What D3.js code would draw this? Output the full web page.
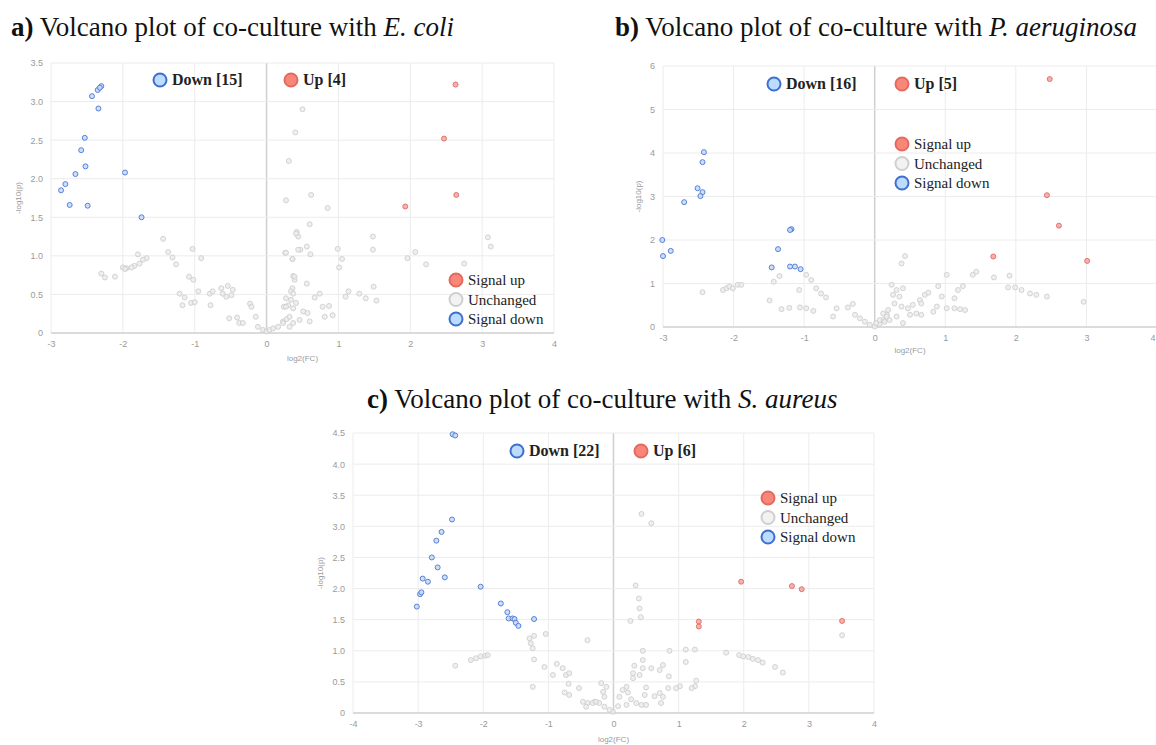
<!DOCTYPE html>
<html><head><meta charset="utf-8">
<script src="https://cdn.jsdelivr.net/npm/d3@7"></script>
<style>body{margin:0;background:#fff}svg{display:block}</style>
</head><body>
<script>
// ---------- DATA ----------
// Panel a: E. coli   [log2(FC), -log10(p)]
const ecoliDown = [[-2.30,3.20],[-2.35,3.15],[-2.32,3.18],[-2.43,3.07],[-2.34,2.91],[-2.53,2.53],[-2.58,2.37],[-2.52,2.16],[-2.66,2.06],[-1.97,2.08],[-2.80,1.93],[-2.86,1.85],[-2.74,1.66],[-2.49,1.65],[-1.74,1.50]];
const ecoliUp = [[2.63,3.22],[2.47,2.52],[2.64,1.79],[1.93,1.64]];
const ecoliUnchanged = [[0.50,2.90],[0.40,2.60],[0.31,2.23],[0.62,1.79],[0.27,1.72],[0.85,1.62],[0.60,1.41],[0.42,1.31],[0.44,1.25],[1.48,1.25],[3.08,1.24],[3.12,1.12],[0.56,1.12],[0.47,1.08],[0.99,1.09],[1.48,1.08],[0.26,1.04],[0.61,1.02],[0.36,0.96],[1.05,0.96],[2.07,1.05],[1.96,0.97],[2.22,0.89],[2.75,0.90],[1.01,0.85],[0.37,0.74],[0.39,0.69],[0.56,0.64],[0.36,0.58],[0.34,0.54],[1.14,0.54],[1.49,0.60],[1.29,0.51],[0.74,0.51],[0.67,0.46],[1.10,0.47],[1.38,0.45],[1.53,0.42],[0.27,0.45],[0.24,0.34],[0.30,0.36],[0.78,0.34],[0.87,0.35],[0.41,0.39],[0.51,0.28],[0.57,0.26],[0.92,0.23],[0.81,0.21],[0.46,0.17],[0.37,0.13],[0.60,0.15],[0.23,0.15],[0.32,0.08],
[-1.44,1.22],[-1.03,1.09],[-1.37,1.05],[-1.31,0.98],[-0.91,0.97],[-1.26,0.89],[-1.79,1.02],[-1.67,0.97],[-1.72,0.95],[-1.77,0.90],[-1.84,0.87],[-1.88,0.85],[-1.95,0.84],[-2.00,0.85],[-1.97,0.83],[-2.11,0.73],[-2.30,0.77],[-2.25,0.72],[-1.08,0.73],[-1.02,0.69],[-1.21,0.51],[-1.14,0.46],[-1.17,0.36],[-1.05,0.39],[-1.00,0.40],[-0.95,0.54],[-0.78,0.36],[-0.79,0.51],[-0.75,0.54],[-0.63,0.58],[-0.54,0.61],[-0.61,0.51],[-0.56,0.47],[-0.49,0.49],[-0.47,0.56],[-0.52,0.19],[-0.41,0.20],[-0.38,0.13],[-0.33,0.13],[-0.23,0.38],[-0.21,0.34],[-0.15,0.21],[-0.12,0.08],[-0.05,0.04],[0.00,0.02],[0.04,0.04],[0.09,0.06],[0.16,0.08],[0.23,0.13],[0.28,0.18],[0.32,0.21],[0.37,0.32],[0.27,0.34],[0.34,0.43],[0.37,0.51],[0.39,0.73],[0.41,1.29],[0.44,1.08],[0.36,0.96],[0.27,1.04]];

// Panel b: P. aeruginosa
const paeruDown = [[-2.42,4.02],[-2.44,3.79],[-2.51,3.19],[-2.44,3.10],[-2.47,3.01],[-2.70,2.87],[-3.01,2.00],[-2.89,1.75],[-3.00,1.63],[-1.18,2.25],[-1.20,2.23],[-1.37,1.79],[-1.46,1.37],[-1.20,1.39],[-1.13,1.39],[-1.05,1.33]];
const paeruUp = [[2.48,5.70],[2.44,3.03],[2.61,2.33],[1.68,1.62],[3.01,1.52]];
const paeruUnchanged = [[-2.44,0.80],[-2.15,0.85],[-2.10,0.89],[-2.06,0.93],[-2.01,0.89],[-1.94,0.97],[-1.89,0.97],[-1.43,1.04],[-1.35,1.17],[-1.49,0.61],[-1.32,0.41],[-1.21,0.44],[-1.07,0.85],[-1.06,0.45],[-0.97,0.43],[-0.87,0.37],[-0.97,1.20],[-0.90,1.08],[-0.83,0.89],[-0.76,0.77],[-0.69,0.68],[-0.59,0.24],[-0.54,0.43],[-0.38,0.45],[-0.31,0.53],[-0.28,0.28],[-0.21,0.20],[-0.14,0.12],[-0.07,0.05],[0.00,0.01],[0.07,0.07],[0.12,0.16],[0.17,0.28],[0.19,0.39],
[0.43,1.63],[0.38,1.46],[0.24,0.97],[0.31,0.85],[0.40,0.89],[0.26,0.74],[0.35,0.70],[0.28,0.54],[0.38,0.47],[0.47,0.43],[0.54,0.51],[0.64,0.62],[0.71,0.74],[0.76,0.79],[0.66,0.54],[0.59,0.31],[0.66,0.28],[0.83,0.35],[0.88,0.47],[0.95,0.70],[0.90,0.94],[1.02,1.20],[1.02,0.43],[1.13,0.43],[1.21,0.41],[1.28,0.39],[1.13,0.66],[1.18,0.85],[1.25,0.94],[1.39,1.20],[1.44,1.27],[1.69,1.14],[1.91,1.18],[1.89,0.91],[1.99,0.91],[2.08,0.85],[2.20,0.77],[2.29,0.74],[2.44,0.70],[2.96,0.58],[0.12,0.31],[0.17,0.24],[0.07,0.16],[0.02,0.09],[0.14,0.12],[0.21,0.16],[0.40,0.09],[0.31,0.24],[0.50,0.28]];

// Panel c: S. aureus
const saureusDown = [[-2.47,4.48],[-2.43,4.46],[-2.48,3.11],[-2.64,2.91],[-2.72,2.77],[-2.79,2.50],[-2.70,2.34],[-2.93,2.16],[-2.85,2.11],[-2.59,2.18],[-2.97,1.91],[-2.95,1.94],[-3.02,1.71],[-2.04,2.03],[-1.73,1.76],[-1.63,1.62],[-1.61,1.52],[-1.55,1.52],[-1.52,1.51],[-1.50,1.45],[-1.46,1.40],[-1.22,1.51]];
const saureusUp = [[1.96,2.11],[2.74,2.04],[2.89,1.99],[1.31,1.47],[1.31,1.39],[3.51,1.48]];
const saureusUnchanged = [[0.43,3.20],[0.58,3.05],[0.34,2.05],[0.39,1.84],[0.40,1.68],[0.42,1.54],[0.26,1.48],[3.51,1.25],[-0.40,1.17],[0.45,1.00],[0.86,1.00],[1.11,1.02],[1.25,1.02],[1.11,0.82],[1.73,0.97],[1.93,0.93],[1.99,0.91],[2.07,0.90],[2.14,0.87],[2.22,0.85],[2.29,0.81],[2.48,0.74],[2.60,0.65],[0.45,0.85],[0.32,0.76],[0.45,0.72],[0.58,0.72],[0.71,0.69],[0.76,0.77],[0.30,0.64],[0.40,0.61],[0.30,0.56],[0.85,0.59],[1.27,0.52],[1.25,0.43],[1.20,0.40],[1.02,0.43],[0.96,0.40],[0.84,0.40],[0.71,0.32],[0.76,0.26],[0.63,0.27],[0.73,0.16],[0.50,0.41],[0.48,0.29],[0.20,0.42],[0.14,0.37],[0.22,0.33],[0.09,0.26],[0.27,0.22],[0.35,0.16],[0.43,0.13],[0.50,0.13],[0.20,0.13],[0.07,0.11],[-0.01,0.02],[-0.06,0.05],[-0.14,0.10],[-0.22,0.16],[-0.29,0.18],[-0.40,0.16],[-0.16,0.34],[-0.14,0.26],[-0.19,0.48],[-0.11,0.42],
[-1.04,1.27],[-1.22,1.24],[-1.29,1.20],[-1.27,1.12],[-1.24,1.04],[-1.22,0.86],[-1.06,0.74],[-0.93,0.61],[-0.87,0.79],[-0.78,0.72],[-0.73,0.61],[-0.68,0.64],[-0.69,0.47],[-0.53,0.40],[-0.75,0.33],[-0.68,0.29],[-0.47,0.18],[-0.42,0.10],[-0.32,0.16],[-0.27,0.18],[-1.24,0.42],[-2.43,0.76],[-2.19,0.85],[-2.11,0.88],[-2.04,0.91],[-1.97,0.92],[-1.93,0.93]];

// Tick values and labels
const ticksA_x = [-3,-2,-1,0,1,2,3,4];
const ticksA_y = [0,0.5,1,1.5,2,2.5,3,3.5];
const ticksB_x = [-3,-2,-1,0,1,2,3,4];
const ticksB_y = [0,1,2,3,4,5,6];
const ticksC_x = [-4,-3,-2,-1,0,1,2,3,4];
const ticksC_y = [0,0.5,1,1.5,2,2.5,3,3.5,4,4.5];
const legendLabels = ["Signal up","Unchanged","Signal down"];

// ---------- STYLE / LAYOUT ----------
const W = 1156, H = 745;
const svg = d3.select("body").append("svg").attr("width", W).attr("height", H);
svg.append("rect").attr("width", W).attr("height", H).attr("fill", "#fff");

const colors = {
  down: {fill:"#c6dcfa", stroke:"#4b74d6"},
  up: {fill:"#f7a99f", stroke:"#dd6a6a"},
  unch: {fill:"#ececec", stroke:"#cdcdcd"}
};

const panels = [
  {label:"a)", org:"E. coli", down:ecoliDown, up:ecoliUp, unch:ecoliUnchanged,
   xDom:[-3,4], xR:[51,554], yDom:[0,3.5], yR:[333,63], xt:ticksA_x, yt:ticksA_y, yfmt:d=>d===0?"0":d3.format(".1f")(d),
   title:{x:11,y:36}, counts:{dx:160, ux:291, y:80}, legend:{x:456, y:280},
   xlab:{y:361}, ylab:{x:21}},
  {label:"b)", org:"P. aeruginosa", down:paeruDown, up:paeruUp, unch:paeruUnchanged,
   xDom:[-3,4], xR:[663,1157], yDom:[0,6], yR:[327,66], xt:ticksB_x, yt:ticksB_y, yfmt:d=>String(d),
   title:{x:615,y:36}, counts:{dx:774, ux:902, y:84}, legend:{x:902, y:144},
   xlab:{y:353}, ylab:{x:641}},
  {label:"c)", org:"S. aureus", down:saureusDown, up:saureusUp, unch:saureusUnchanged,
   xDom:[-4,4], xR:[353,874], yDom:[0,4.5], yR:[713,433], xt:ticksC_x, yt:ticksC_y, yfmt:d=>d===0?"0":d3.format(".1f")(d),
   title:{x:367,y:408}, counts:{dx:517, ux:641, y:451}, legend:{x:768, y:498},
   xlab:{y:742}, ylab:{x:323}}
];

panels.forEach(p => {
  const g = svg.append("g");
  const x = d3.scaleLinear().domain(p.xDom).range(p.xR);
  const y = d3.scaleLinear().domain(p.yDom).range(p.yR);

  // Title
  const t = g.append("text").attr("x", p.title.x).attr("y", p.title.y)
    .attr("font-family", "'Liberation Serif','Times New Roman',serif").attr("font-size", 27).attr("fill", "#111");
  t.append("tspan").attr("font-weight", "bold").text(p.label);
  t.append("tspan").text(" Volcano plot of co-culture with ");
  t.append("tspan").attr("font-style", "italic").text(p.org);

  // Grid
  const grid = g.append("g");
  grid.selectAll("line.v").data(p.xt).join("line")
    .attr("x1", d => x(d)).attr("x2", d => x(d)).attr("y1", p.yR[0]).attr("y2", p.yR[1])
    .attr("stroke", d => d === 0 ? "#cfcfcf" : "#ececec").attr("stroke-width", d => d === 0 ? 1.5 : 1);
  grid.selectAll("line.h").data(p.yt).join("line")
    .attr("y1", d => y(d)).attr("y2", d => y(d)).attr("x1", p.xR[0]).attr("x2", p.xR[1])
    .attr("stroke", d => d === 0 ? "#cfcfcf" : "#ececec").attr("stroke-width", d => d === 0 ? 1.5 : 1);

  // Axes
  const xAxis = d3.axisBottom(x).tickValues(p.xt).tickSize(0).tickPadding(8).tickFormat(d => String(d));
  const yAxis = d3.axisLeft(y).tickValues(p.yt).tickSize(0).tickPadding(8).tickFormat(p.yfmt);
  const gx = g.append("g").attr("transform", `translate(0,${p.yR[0]})`).call(xAxis);
  const gy = g.append("g").attr("transform", `translate(${p.xR[0]},0)`).call(yAxis);
  [gx, gy].forEach(a => {
    a.select(".domain").remove();
    a.selectAll("text").attr("fill", "#9a9a9a").attr("font-size", 9).attr("font-family", "'Liberation Sans',Arial,sans-serif");
  });
  // keep edge labels inside the page
  gx.selectAll(".tick").each(function(d) {
    if (x(d) > W - 4) d3.select(this).select("text").attr("text-anchor", "end").attr("dx", W - x(d) - 1);
  });

  // Axis titles
  g.append("text").attr("x", (p.xR[0] + p.xR[1]) / 2).attr("y", p.xlab.y).attr("text-anchor", "middle")
    .attr("font-family", "'Liberation Sans',Arial,sans-serif").attr("font-size", 8).attr("fill", "#9a9a9a").text("log2(FC)");
  const yc = (p.yR[0] + p.yR[1]) / 2;
  g.append("text").attr("transform", `translate(${p.ylab.x},${yc}) rotate(-90)`).attr("text-anchor", "middle")
    .attr("font-family", "'Liberation Sans',Arial,sans-serif").attr("font-size", 8).attr("fill", "#9a9a9a").text("-log10(p)");

  // Points
  const drawPts = (data, c, r, op) => g.append("g").selectAll("circle").data(data).join("circle")
    .attr("cx", d => x(d[0])).attr("cy", d => y(d[1])).attr("r", r)
    .attr("fill", c.fill).attr("fill-opacity", op).attr("stroke", c.stroke).attr("stroke-opacity", op).attr("stroke-width", 1);
  drawPts(p.unch, colors.unch, 2.5, 0.85);
  drawPts(p.down, colors.down, 2.5, 0.9);
  drawPts(p.up, colors.up, 2.5, 0.9);

  // Count labels
  const serif = "'Liberation Serif','Times New Roman',serif";
  [[p.counts.dx, "#bcdcff", "#3d6fd0", `Down [${p.down.length}]`], [p.counts.ux, "#f8877a", "#e46a5e", `Up [${p.up.length}]`]].forEach(([cx, f, s, txt]) => {
    g.append("circle").attr("cx", cx).attr("cy", p.counts.y).attr("r", 6.5)
      .attr("fill", f).attr("stroke", s).attr("stroke-width", 2);
    g.append("text").attr("x", cx + 12).attr("y", p.counts.y + 5).attr("font-family", serif)
      .attr("font-weight", "bold").attr("font-size", 16).attr("fill", "#222").text(txt);
  });

  // Legend
  const legStyles = [{f:"#f8877a", s:"#e46a5e"}, {f:"#f2f2f2", s:"#cfcfcf"}, {f:"#bcdcff", s:"#3d6fd0"}];
  legendLabels.forEach((lab, i) => {
    const ly = p.legend.y + i * 19.5;
    g.append("circle").attr("cx", p.legend.x).attr("cy", ly).attr("r", 6.5)
      .attr("fill", legStyles[i].f).attr("stroke", legStyles[i].s).attr("stroke-width", 2);
    g.append("text").attr("x", p.legend.x + 12).attr("y", ly + 5).attr("font-family", serif)
      .attr("font-size", 15).attr("fill", "#222").text(lab);
  });
});
</script>
</body></html>
